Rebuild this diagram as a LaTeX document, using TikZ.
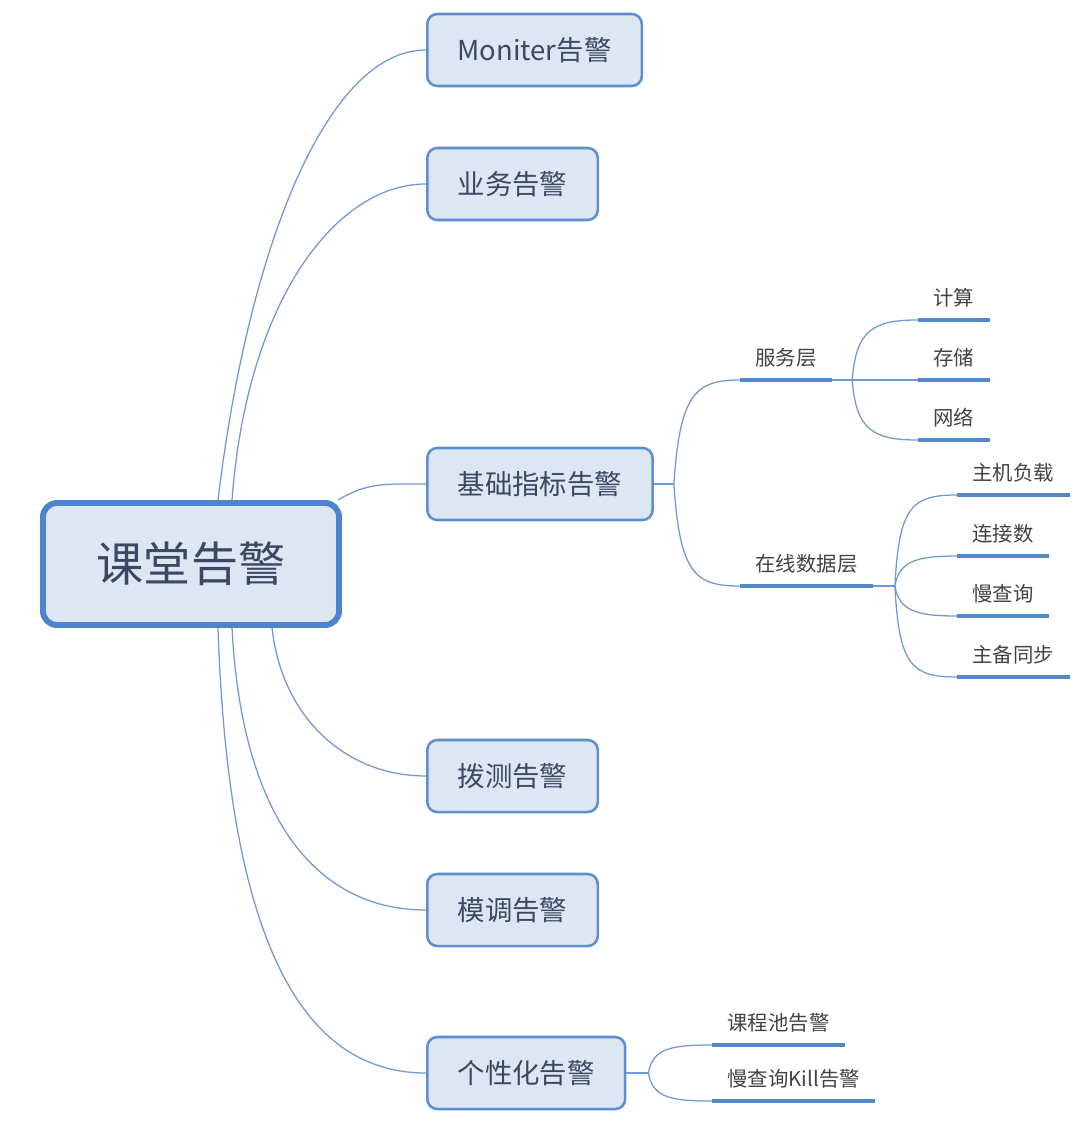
\documentclass[tikz,border=0pt]{standalone}
\usepackage{fontspec}
\setmainfont{Noto Sans CJK SC}
\usetikzlibrary{positioning, calc}
\definecolor{boxfill}{RGB}{221,230,243}
\definecolor{boxline}{RGB}{92,142,208}
\definecolor{rootline}{RGB}{78,132,206}
\definecolor{boxtext}{RGB}{58,72,98}
\definecolor{leaftext}{RGB}{66,66,70}
\definecolor{linkblue}{RGB}{112,152,212}
\definecolor{ulblue}{RGB}{84,136,204}

\begin{document}
\begin{tikzpicture}[x=0.025cm, y=-0.025cm,
  every node/.style={font=\fontsize{19.5}{22}\selectfont, text=boxtext},
  central/.style={draw=rootline, line width=4.2pt, fill=boxfill, rounded corners=0.35cm,
        minimum width=7.4cm, minimum height=3.05cm, font=\fontsize{33.5}{38}\selectfont},
  topic/.style={draw=boxline, line width=1.8pt, fill=boxfill, rounded corners=0.25cm,
        minimum height=1.8cm, inner xsep=0.76cm, anchor=west},
  leaf/.style={anchor=south west, font=\fontsize{14.5}{16}\selectfont, text=leaftext,
        inner xsep=0.38cm, inner ysep=0.28cm, text height=0.8em, text depth=0.2em},
  branch/.style={draw=linkblue, line width=0.9pt},
  uline/.style={draw=ulblue, line width=2.8pt}]
  \useasboundingbox (0,0) rectangle (1080,1130);

  \node[central] (root) at (191,564) {课堂告警};

  \node[topic] (mon) at (426,50) {Moniter告警};
  \node[topic] (biz) at (426,184) {业务告警};
  \node[topic] (base) at (426,484) {基础指标告警};
  \node[topic] (dial) at (426,776) {拨测告警};
  \node[topic] (mod) at (426,910) {模调告警};
  \node[topic] (pers) at (426,1073) {个性化告警};

  \node[leaf] (svc) at (740,380) {服务层};
  \node[leaf] (calc) at (918,320) {计算};
  \node[leaf] (store) at (918,380) {存储};
  \node[leaf] (net) at (918,440) {网络};
  \node[leaf] (data) at (740,586) {在线数据层};
  \node[leaf] (load) at (957,495) {主机负载};
  \node[leaf] (conn) at (957,556) {连接数};
  \node[leaf] (slow) at (957,616) {慢查询};
  \node[leaf] (sync) at (957,677) {主备同步};
  \node[leaf] (pool) at (712,1045) {课程池告警};
  \node[leaf] (kill) at (712,1101) {慢查询Kill告警};

  \foreach \n in {svc,calc,store,net,data,load,conn,slow,sync,pool,kill}
    \draw[uline] (\n.south west) -- (\n.south east);

  % root to topics
  \draw[branch] ([xshift=0.675cm]root.north) .. controls +(30,-250) and +(-100,0) .. (mon.west);
  \draw[branch] ([xshift=1.025cm]root.north) .. controls +(15,-200) and +(-90,0) .. (biz.west);
  \draw[branch] ([xshift=-0.1cm]root.north east) .. controls +(30,-18) and +(-40,0) .. (base.west);
  \draw[branch] ([xshift=2.025cm]root.south) .. controls +(10,90) and +(-80,0) .. (dial.west);
  \draw[branch] ([xshift=1.025cm]root.south) .. controls +(10,190) and +(-110,0) .. (mod.west);
  \draw[branch] ([xshift=0.675cm]root.south) .. controls +(10,300) and +(-130,0) .. (pers.west);

  % second level
  \coordinate (hb) at ([xshift=0.5cm]base.east);
  \draw[branch] (base.east) -- (hb);
  \draw[branch] (hb) .. controls +(6,-90) and +(-45,0) .. (svc.south west);
  \draw[branch] (hb) .. controls +(6,90) and +(-45,0) .. (data.south west);

  \coordinate (hs) at ([xshift=0.5cm]svc.south east);
  \draw[branch] (svc.south east) -- (hs) -- (store.south west);
  \draw[branch] (hs) .. controls +(4,-50) and +(-45,0) .. (calc.south west);
  \draw[branch] (hs) .. controls +(4,50) and +(-45,0) .. (net.south west);

  \coordinate (hd) at ([xshift=0.55cm]data.south east);
  \draw[branch] (data.south east) -- (hd);
  \draw[branch] (hd) .. controls +(4,-80) and +(-45,0) .. (load.south west);
  \draw[branch] (hd) .. controls +(4,-25) and +(-40,0) .. (conn.south west);
  \draw[branch] (hd) .. controls +(4,25) and +(-40,0) .. (slow.south west);
  \draw[branch] (hd) .. controls +(4,80) and +(-45,0) .. (sync.south west);

  \coordinate (hp) at ([xshift=0.55cm]pers.east);
  \draw[branch] (pers.east) -- (hp);
  \draw[branch] (hp) .. controls +(4,-25) and +(-40,0) .. (pool.south west);
  \draw[branch] (hp) .. controls +(4,25) and +(-40,0) .. (kill.south west);
\end{tikzpicture}
\end{document}
